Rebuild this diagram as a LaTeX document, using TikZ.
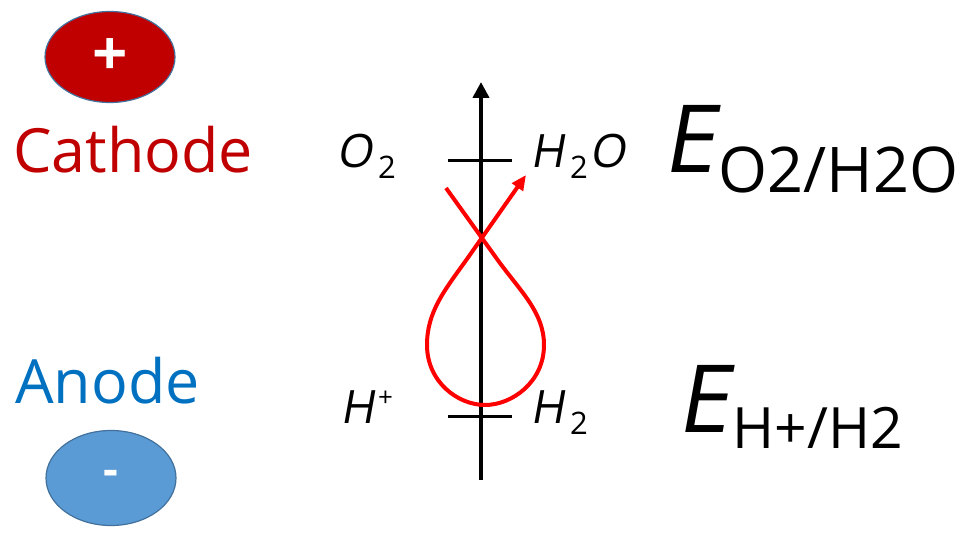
\documentclass[tikz,border=0pt]{standalone}
\usepackage{fontspec}
\setmainfont{Open Sans}
\newfontfamily\slfont[FakeSlant=0.18]{Open Sans}
\usetikzlibrary{shapes.geometric,arrows.meta}
\definecolor{cathred}{HTML}{C00000}
\definecolor{anblue}{HTML}{0070C0}
\definecolor{ellblue}{HTML}{5B9BD5}
\definecolor{ellborder}{HTML}{41719C}
\definecolor{curvered}{HTML}{FF0000}
\tikzset{
  electrode/.style={ellipse, draw=ellborder, line width=1.2pt, minimum width=130pt, text=white, inner sep=0pt},
  lbl/.style={inner sep=0pt, anchor=base west, text=black},
  tick/.style={line width=3pt},
}
\newcommand{\fs}[1]{\fontsize{#1}{#1}\selectfont}
\begin{document}
\begin{tikzpicture}[x=1pt,y=-1pt]
\useasboundingbox (0,0) rectangle (962,535);
% electrodes
\node[electrode, fill=cathred, minimum height=91pt] (cat) at (110,57) {\fs{62}\bfseries +};
\node[electrode, fill=ellblue, minimum height=95pt] (an) at (111,478) {\fs{46}\bfseries -};
\node[lbl, text=cathred] (cathtxt) at (13,172) {\fs{61}Cathode};
\node[lbl, text=anblue] (antxt) at (15,403) {\fs{61}Anode};
% axis
\coordinate (axb) at (481,480);
\coordinate (axt) at (481,82);
\draw[line width=4pt, -{Triangle[length=16pt,width=16pt]}] (axb) -- (axt);
\coordinate (t1l) at (448,160); \coordinate (t1r) at (512,160);
\coordinate (t2l) at (448,416); \coordinate (t2r) at (512,416);
\draw[tick] (t1l) -- (t1r);
\draw[tick] (t2l) -- (t2r);
% species labels
\node[lbl] (o2) at (336,167) {{\slfont\fs{46}O}\kern6pt\raisebox{-11pt}{\fs{31}2}};
\node[lbl] (h2o) at (530,167) {{\slfont\fs{46}H}\kern6pt\raisebox{-11pt}{\fs{31}2}\kern2pt{\slfont\fs{46}O}};
\node[lbl] (hp) at (340,423) {{\slfont\fs{46}H}\kern4pt\raisebox{17pt}{\fs{26}+}};
\node[lbl] (h2) at (530,423) {{\slfont\fs{46}H}\kern6pt\raisebox{-11pt}{\fs{31}2}};
% potentials
\node[lbl] (e1) at (662,172) {{\slfont\fs{94}E}\kern4pt\raisebox{-20pt}{\fs{63}O2/H2O}};
\node[lbl] (e2) at (676,432) {{\slfont\fs{94}E}\kern4pt\raisebox{-16pt}{\fs{57}H+/H2}};
% red loop
\coordinate (s) at (446,188);
\coordinate (a1) at (497,259);
\coordinate (r) at (544,345);
\coordinate (b) at (485,405);
\coordinate (l) at (427,345);
\coordinate (a2) at (467,259);
\coordinate (tip) at (526,175);
\draw[curvered, line width=4pt, line join=round, -{Triangle[length=15pt,width=13pt]}]
  (s) -- (a1) .. controls (520,291) and (544,312) .. (r)
  .. controls (544,382) and (512,405) .. (b)
  .. controls (458,405) and (427,382) .. (l)
  .. controls (427,312) and (444,291) .. (a2) -- (tip);
\end{tikzpicture}
\end{document}
